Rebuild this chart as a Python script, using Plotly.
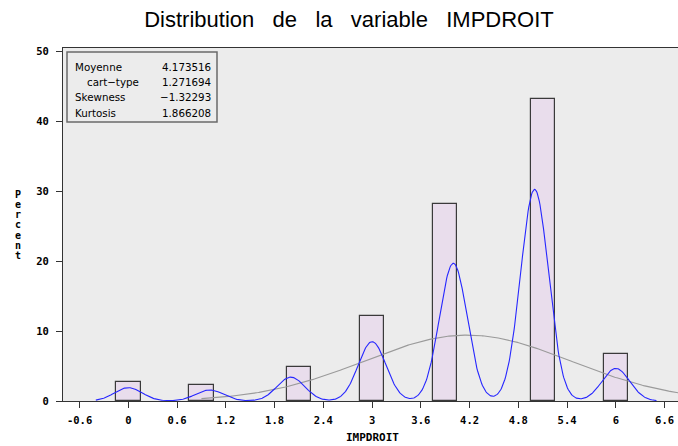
import numpy as np
import plotly.graph_objects as go

# Histogram of IMPDROIT (percent of observations per level)
levels = [0, 1, 2, 3, 4, 5, 6]
bar_mid = [0.0, 0.9, 2.1, 3.0, 3.9, 5.1, 6.0]
percent = [2.72, 2.25, 4.87, 12.1, 28.1, 43.2, 6.65]
bar_width = 0.3

# Summary statistics shown in the inset
stat_names = ["Moyenne", "cart\u2212type", "Skewness", "Kurtosis"]
stat_values = ["4.173516", "1.271694", "\u22121.32293", "1.866208"]
mean = 4.173516
std = 1.271694
kde_bandwidth = 0.171

x_tick_vals = [-0.6, 0, 0.6, 1.2, 1.8, 2.4, 3, 3.6, 4.2, 4.8, 5.4, 6, 6.6]
x_tick_text = ["-0.6", "0", "0.6", "1.2", "1.8", "2.4", "3", "3.6",
               "4.2", "4.8", "5.4", "6", "6.6"]
y_tick_vals = [0, 10, 20, 30, 40, 50]


def gauss(x, mu, sigma):
    return np.exp(-0.5 * ((x - mu) / sigma) ** 2) / (sigma * np.sqrt(2 * np.pi))


# Fitted normal curve, scaled to the percent axis for the bar width
xn = np.linspace(0.9, 6.8, 400)
yn = 100 * bar_width * gauss(xn, mean, std)

# Kernel density estimate of the discrete levels
xk = np.linspace(-0.4, 6.5, 800)
yk = np.zeros_like(xk)
for lv, p in zip(levels, percent):
    yk += bar_width * p * gauss(xk, lv, kde_bandwidth)

fig = go.Figure()
fig.add_trace(go.Bar(
    x=bar_mid, y=percent, width=bar_width,
    marker=dict(color="#E9DDEC", line=dict(color="#3a3a3a", width=1.2)),
    hoverinfo="x+y",
))
fig.add_trace(go.Scatter(x=xn, y=yn, mode="lines",
                         line=dict(color="#9a9a9a", width=1.1), cliponaxis=True))
fig.add_trace(go.Scatter(x=xk, y=yk, mode="lines",
                         line=dict(color="#2626ff", width=1.1), cliponaxis=True))

tick_font = dict(family="DejaVu Sans Mono", size=10.5, color="black", weight="bold")

fig.update_layout(
    width=678, height=446,
    margin=dict(l=63, r=0, t=48, b=45),
    paper_bgcolor="white",
    plot_bgcolor="#ECECEC",
    showlegend=False,
    bargap=0,
    title=dict(
        text="Distribution\u00a0\u00a0 de\u00a0\u00a0 la\u00a0\u00a0 variable\u00a0\u00a0 IMPDROIT",
        font=dict(family="Liberation Sans", size=22, color="black"),
        x=349 / 678, xref="container", xanchor="center",
        y=1 - 19 / 446, yref="container", yanchor="middle",
    ),
    xaxis=dict(
        range=[-0.804, 6.765],
        tickvals=x_tick_vals, ticktext=x_tick_text,
        ticks="outside", ticklen=6, tickcolor="#333", tickwidth=1,
        showline=True, linecolor="#333", linewidth=1, mirror=True,
        showgrid=False, zeroline=False,
        tickfont=tick_font, ticklabelstandoff=3,
    ),
    yaxis=dict(
        range=[0, 50.43],
        tickvals=y_tick_vals,
        ticks="outside", ticklen=6, tickcolor="#333", tickwidth=1,
        showline=True, linecolor="#333", linewidth=1,
        showgrid=False, zeroline=False,
        tickfont=tick_font, ticklabelstandoff=5,
    ),
)

# Inset box with the summary statistics
def px_x(px):
    return (px - 63) / 615


def px_y(py):
    return (401 - py) / 353


fig.add_shape(type="rect", xref="paper", yref="paper",
              x0=px_x(67), x1=px_x(217), y0=px_y(122), y1=px_y(52),
              line=dict(color="#6a6a6a", width=1.5), fillcolor="#ECECEC")

row_y = [66.7, 81.7, 96.7, 112.7]
name_x = [73, 85, 73, 73]
stat_font = dict(family="DejaVu Sans", size=10.3, color="black")
for name, val, ry, nx in zip(stat_names, stat_values, row_y, name_x):
    fig.add_annotation(text=name, xref="paper", yref="paper",
                       x=px_x(nx), y=px_y(ry), xanchor="left", yanchor="middle",
                       showarrow=False, font=stat_font)
    fig.add_annotation(text=val, xref="paper", yref="paper",
                       x=px_x(213), y=px_y(ry), xanchor="right", yanchor="middle",
                       showarrow=False, font=stat_font)

# Axis titles
axis_font = dict(family="DejaVu Sans Mono", size=11, color="black", weight="bold")
fig.add_annotation(text="IMPDROIT", xref="paper", yref="paper",
                   x=px_x(372), y=px_y(437), xanchor="center", yanchor="middle",
                   showarrow=False, font=axis_font)
for i, ch in enumerate("Percent"):
    fig.add_annotation(text=ch, xref="paper", yref="paper",
                       x=px_x(18), y=px_y(194 + i * 10.3),
                       xanchor="center", yanchor="middle",
                       showarrow=False, font=dict(family="DejaVu Sans Mono", size=10,
                                                  color="black", weight="bold"))

fig.write_html("out.html")
